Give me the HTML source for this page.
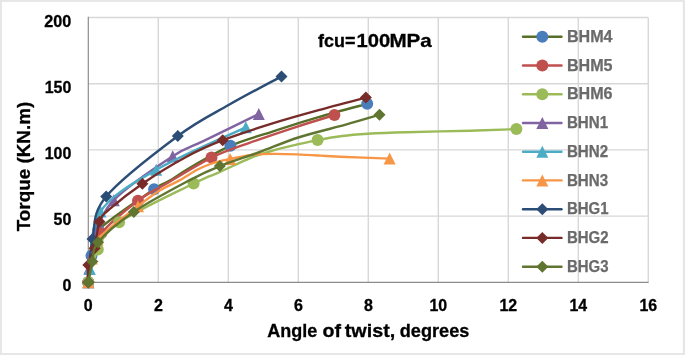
<!DOCTYPE html>
<html><head><meta charset="utf-8"><title>Torque vs angle of twist</title>
<style>html,body{margin:0;padding:0;background:#fff}svg{display:block}text{font-family:"Liberation Sans",sans-serif;font-weight:bold}</style></head><body>
<svg width="685" height="355" viewBox="0 0 685 355">
<rect x="0" y="0" width="685" height="355" fill="#e6e6e6"/>
<rect x="1.9" y="1.9" width="680.9" height="351.1" fill="#ffffff"/>
<path d="M158.3 17.5V282.3M228.3 17.5V282.3M298.3 17.5V282.3M368.3 17.5V282.3M438.3 17.5V282.3M508.3 17.5V282.3M578.3 17.5V282.3M648.3 17.5V282.3M88.3 216.10H648.3M88.3 149.90H648.3M88.3 83.70H648.3M88.3 17.50H648.3" stroke="#d8d8d8" stroke-width="1.4" fill="none"/>
<path d="M88.3 16.8V282.3H648.6" stroke="#8c8c8c" stroke-width="1.2" fill="none"/>
<path d="M88.3 282.3C88.8 277.9 89.8 264.5 91.5 255.8C93.1 247.1 88.0 241.1 98.4 230.0C108.9 218.9 142.4 197.4 154.1 189.2C165.8 181.1 162.3 185.1 168.8 181.1C175.3 177.2 183.0 171.7 193.3 165.8C203.6 159.9 217.3 151.5 230.4 145.8C243.5 140.1 257.0 136.5 271.7 131.8C286.4 127.0 302.7 121.7 318.6 117.1C334.5 112.4 359.1 106.0 367.2 103.8" stroke="#566E27" stroke-width="2.4" fill="none" stroke-linecap="round" stroke-linejoin="round"/>
<circle cx="88.3" cy="282.3" r="6" fill="#4A7EBB"/>
<circle cx="91.5" cy="255.8" r="6" fill="#4A7EBB"/>
<circle cx="98.4" cy="230.0" r="6" fill="#4A7EBB"/>
<circle cx="154.1" cy="189.2" r="6" fill="#4A7EBB"/>
<circle cx="230.4" cy="145.8" r="6" fill="#4A7EBB"/>
<circle cx="367.2" cy="103.8" r="6" fill="#4A7EBB"/>
<path d="M88.3 282.3C88.4 278.5 86.5 268.0 88.6 259.8C90.8 251.6 93.0 243.2 101.2 233.3C109.5 223.5 127.1 209.0 138.0 200.7C148.9 192.4 154.4 190.7 166.7 183.5C178.9 176.3 197.9 164.3 211.5 157.6C225.1 150.9 234.3 148.3 248.2 143.3C262.2 138.2 280.8 132.0 295.1 127.3C309.5 122.6 327.8 117.1 334.4 115.1" stroke="#C0504D" stroke-width="2.4" fill="none" stroke-linecap="round" stroke-linejoin="round"/>
<circle cx="88.3" cy="282.3" r="6" fill="#C0504D"/>
<circle cx="101.2" cy="233.3" r="6" fill="#C0504D"/>
<circle cx="138.0" cy="200.7" r="6" fill="#C0504D"/>
<circle cx="211.5" cy="157.6" r="6" fill="#C0504D"/>
<circle cx="334.4" cy="115.1" r="6" fill="#C0504D"/>
<path d="M88.3 282.3C89.9 276.8 92.6 259.5 97.8 249.5C102.9 239.5 103.1 233.3 119.1 222.3C135.1 211.3 176.8 191.9 193.6 183.5C210.4 175.1 210.4 176.3 219.9 172.0C229.4 167.7 241.9 161.4 250.7 157.8C259.5 154.3 265.5 152.7 272.8 150.6C280.0 148.4 287.0 146.9 294.4 145.1C301.9 143.4 309.6 141.6 317.6 140.1C325.5 138.6 333.6 137.1 342.1 136.0C350.5 134.9 357.2 134.4 368.0 133.7C378.7 133.1 389.4 132.7 406.4 132.2C423.5 131.7 452.2 131.2 470.5 130.7C488.8 130.2 508.7 129.4 516.4 129.1" stroke="#9BBB59" stroke-width="2.4" fill="none" stroke-linecap="round" stroke-linejoin="round"/>
<circle cx="88.3" cy="282.3" r="6" fill="#9BBB59"/>
<circle cx="97.8" cy="249.5" r="6" fill="#9BBB59"/>
<circle cx="119.1" cy="222.3" r="6" fill="#9BBB59"/>
<circle cx="193.6" cy="183.5" r="6" fill="#9BBB59"/>
<circle cx="317.6" cy="140.1" r="6" fill="#9BBB59"/>
<circle cx="516.4" cy="129.1" r="6" fill="#9BBB59"/>
<path d="M88.3 282.3C88.5 280.0 88.2 276.1 89.3 268.4C90.5 260.7 91.2 247.3 95.3 236.0C99.4 224.6 101.0 213.5 113.8 200.2C126.7 186.9 157.7 166.1 172.7 156.3C187.6 146.4 189.5 147.9 203.8 140.9C218.2 133.9 249.6 118.5 258.8 114.0" stroke="#8064A2" stroke-width="2.4" fill="none" stroke-linecap="round" stroke-linejoin="round"/>
<path d="M88.3 276.3L94.3 288.3L82.3 288.3Z" fill="#8064A2"/>
<path d="M89.3 262.4L95.3 274.4L83.3 274.4Z" fill="#8064A2"/>
<path d="M95.3 230.0L101.3 242.0L89.3 242.0Z" fill="#8064A2"/>
<path d="M113.8 194.2L119.8 206.2L107.8 206.2Z" fill="#8064A2"/>
<path d="M172.7 150.3L178.7 162.3L166.7 162.3Z" fill="#8064A2"/>
<path d="M258.8 108.0L264.8 120.0L252.8 120.0Z" fill="#8064A2"/>
<path d="M88.3 282.3C88.6 280.1 87.8 280.9 89.8 269.1C91.8 257.3 89.5 228.0 100.5 211.5C111.6 194.9 132.0 183.8 156.2 169.8C180.4 155.7 230.9 134.3 245.8 127.3" stroke="#4BACC6" stroke-width="2.4" fill="none" stroke-linecap="round" stroke-linejoin="round"/>
<path d="M88.3 276.3L94.3 288.3L82.3 288.3Z" fill="#4BACC6"/>
<path d="M89.8 263.1L95.8 275.1L83.8 275.1Z" fill="#4BACC6"/>
<path d="M100.5 205.5L106.5 217.5L94.5 217.5Z" fill="#4BACC6"/>
<path d="M156.2 163.8L162.2 175.8L150.2 175.8Z" fill="#4BACC6"/>
<path d="M245.8 121.3L251.8 133.3L239.8 133.3Z" fill="#4BACC6"/>
<path d="M88.3 282.3C88.9 278.3 90.3 265.6 91.8 258.5C93.3 251.3 89.7 248.3 97.4 239.5C105.1 230.8 127.7 214.3 138.0 206.2C148.3 198.0 152.5 194.9 159.3 190.7C166.2 186.4 172.6 184.1 178.9 180.6C185.2 177.1 192.1 172.5 197.1 169.8C202.2 167.1 205.1 166.0 209.1 164.5C213.0 163.0 217.4 161.7 220.9 160.8C224.4 159.9 225.2 160.0 230.1 159.0C235.0 158.1 243.1 155.9 250.3 155.1C257.6 154.2 265.7 154.0 273.4 153.9C281.2 153.8 289.1 154.1 296.9 154.4C304.7 154.7 313.2 155.2 320.3 155.6C327.5 156.0 328.4 156.1 339.9 156.7C351.5 157.2 381.4 158.3 389.6 158.6" stroke="#F79646" stroke-width="2.4" fill="none" stroke-linecap="round" stroke-linejoin="round"/>
<path d="M88.3 276.3L94.3 288.3L82.3 288.3Z" fill="#F79646"/>
<path d="M91.8 252.5L97.8 264.5L85.8 264.5Z" fill="#F79646"/>
<path d="M97.4 233.5L103.4 245.5L91.4 245.5Z" fill="#F79646"/>
<path d="M138.0 200.2L144.0 212.2L132.0 212.2Z" fill="#F79646"/>
<path d="M230.1 153.0L236.1 165.0L224.1 165.0Z" fill="#F79646"/>
<path d="M389.6 152.6L395.6 164.6L383.6 164.6Z" fill="#F79646"/>
<path d="M88.3 282.3C89.0 275.1 89.5 253.2 92.5 238.9C95.5 224.6 91.9 213.7 106.2 196.5C120.4 179.4 157.3 151.3 177.8 136.0C198.3 120.7 211.7 114.7 229.0 104.8C246.3 94.8 272.8 81.1 281.5 76.4" stroke="#2C4D75" stroke-width="2.4" fill="none" stroke-linecap="round" stroke-linejoin="round"/>
<path d="M88.3 276.3L94.3 282.3L88.3 288.3L82.3 282.3Z" fill="#2C4D75"/>
<path d="M92.5 232.9L98.5 238.9L92.5 244.9L86.5 238.9Z" fill="#2C4D75"/>
<path d="M106.2 190.5L112.2 196.5L106.2 202.5L100.2 196.5Z" fill="#2C4D75"/>
<path d="M177.8 130.0L183.8 136.0L177.8 142.0L171.8 136.0Z" fill="#2C4D75"/>
<path d="M281.5 70.4L287.5 76.4L281.5 82.4L275.5 76.4Z" fill="#2C4D75"/>
<path d="M88.3 282.3C88.3 279.4 87.2 270.8 88.3 265.1C89.3 259.4 92.7 255.5 94.6 248.3C96.5 241.0 97.1 228.1 99.5 221.7C101.9 215.2 101.8 216.1 108.9 209.7C116.1 203.4 129.6 192.4 142.4 183.7C155.2 174.9 172.2 164.4 185.6 157.2C199.0 149.9 208.3 145.8 222.7 140.2C237.0 134.7 255.7 128.7 271.7 123.7C287.7 118.7 302.9 114.5 318.6 110.2C334.3 105.8 358.0 99.7 365.9 97.6" stroke="#772C2A" stroke-width="2.4" fill="none" stroke-linecap="round" stroke-linejoin="round"/>
<path d="M88.3 276.3L94.3 282.3L88.3 288.3L82.3 282.3Z" fill="#772C2A"/>
<path d="M88.3 259.1L94.3 265.1L88.3 271.1L82.3 265.1Z" fill="#772C2A"/>
<path d="M94.6 242.3L100.6 248.3L94.6 254.3L88.6 248.3Z" fill="#772C2A"/>
<path d="M99.5 215.7L105.5 221.7L99.5 227.7L93.5 221.7Z" fill="#772C2A"/>
<path d="M142.4 177.7L148.4 183.7L142.4 189.7L136.4 183.7Z" fill="#772C2A"/>
<path d="M222.7 134.2L228.7 140.2L222.7 146.2L216.7 140.2Z" fill="#772C2A"/>
<path d="M365.9 91.6L371.9 97.6L365.9 103.6L359.9 97.6Z" fill="#772C2A"/>
<path d="M88.3 282.3C89.0 278.8 90.8 268.2 92.4 261.5C94.0 254.8 91.2 250.5 98.1 242.2C105.0 233.9 118.5 222.2 133.8 211.9C149.1 201.5 175.5 187.7 189.8 180.1C204.2 172.5 208.5 170.6 219.9 166.1C231.3 161.5 245.3 157.3 258.4 152.5C271.5 147.8 283.9 142.1 298.3 137.5C312.7 132.8 331.3 128.6 344.9 124.9C358.4 121.1 373.7 116.5 379.5 114.8" stroke="#5F7530" stroke-width="2.4" fill="none" stroke-linecap="round" stroke-linejoin="round"/>
<path d="M88.3 276.3L94.3 282.3L88.3 288.3L82.3 282.3Z" fill="#5F7530"/>
<path d="M92.4 255.5L98.4 261.5L92.4 267.5L86.4 261.5Z" fill="#5F7530"/>
<path d="M98.1 236.2L104.1 242.2L98.1 248.2L92.1 242.2Z" fill="#5F7530"/>
<path d="M133.8 205.9L139.8 211.9L133.8 217.9L127.8 211.9Z" fill="#5F7530"/>
<path d="M219.9 160.1L225.9 166.1L219.9 172.1L213.9 166.1Z" fill="#5F7530"/>
<path d="M379.5 108.8L385.5 114.8L379.5 120.8L373.5 114.8Z" fill="#5F7530"/>
<path d="M523 36.7H561.5" stroke="#566E27" stroke-width="2.4" stroke-linecap="round"/>
<circle cx="542.3" cy="36.7" r="6" fill="#4A7EBB"/>
<text x="566.9" y="41.9" font-size="15.6" fill="#6a6a6a" stroke="#6a6a6a" stroke-width="0.25" textLength="45.6" lengthAdjust="spacingAndGlyphs">BHM4</text>
<path d="M523 65.5H561.5" stroke="#C0504D" stroke-width="2.4" stroke-linecap="round"/>
<circle cx="542.3" cy="65.5" r="6" fill="#C0504D"/>
<text x="566.9" y="70.7" font-size="15.6" fill="#6a6a6a" stroke="#6a6a6a" stroke-width="0.25" textLength="45.6" lengthAdjust="spacingAndGlyphs">BHM5</text>
<path d="M523 94.2H561.5" stroke="#9BBB59" stroke-width="2.4" stroke-linecap="round"/>
<circle cx="542.3" cy="94.2" r="6" fill="#9BBB59"/>
<text x="566.9" y="99.4" font-size="15.6" fill="#6a6a6a" stroke="#6a6a6a" stroke-width="0.25" textLength="45.6" lengthAdjust="spacingAndGlyphs">BHM6</text>
<path d="M523 123.0H561.5" stroke="#8064A2" stroke-width="2.4" stroke-linecap="round"/>
<path d="M542.3 117.0L548.3 128.9L536.3 128.9Z" fill="#8064A2"/>
<text x="566.9" y="128.2" font-size="15.6" fill="#6a6a6a" stroke="#6a6a6a" stroke-width="0.25" textLength="41.2" lengthAdjust="spacingAndGlyphs">BHN1</text>
<path d="M523 151.7H561.5" stroke="#4BACC6" stroke-width="2.4" stroke-linecap="round"/>
<path d="M542.3 145.7L548.3 157.7L536.3 157.7Z" fill="#4BACC6"/>
<text x="566.9" y="156.9" font-size="15.6" fill="#6a6a6a" stroke="#6a6a6a" stroke-width="0.25" textLength="41.2" lengthAdjust="spacingAndGlyphs">BHN2</text>
<path d="M523 180.4H561.5" stroke="#F79646" stroke-width="2.4" stroke-linecap="round"/>
<path d="M542.3 174.4L548.3 186.4L536.3 186.4Z" fill="#F79646"/>
<text x="566.9" y="185.6" font-size="15.6" fill="#6a6a6a" stroke="#6a6a6a" stroke-width="0.25" textLength="41.2" lengthAdjust="spacingAndGlyphs">BHN3</text>
<path d="M523 209.2H561.5" stroke="#2C4D75" stroke-width="2.4" stroke-linecap="round"/>
<path d="M542.3 203.2L548.3 209.2L542.3 215.2L536.3 209.2Z" fill="#2C4D75"/>
<text x="566.9" y="214.4" font-size="15.6" fill="#6a6a6a" stroke="#6a6a6a" stroke-width="0.25" textLength="41.6" lengthAdjust="spacingAndGlyphs">BHG1</text>
<path d="M523 237.9H561.5" stroke="#772C2A" stroke-width="2.4" stroke-linecap="round"/>
<path d="M542.3 231.9L548.3 237.9L542.3 243.9L536.3 237.9Z" fill="#772C2A"/>
<text x="566.9" y="243.1" font-size="15.6" fill="#6a6a6a" stroke="#6a6a6a" stroke-width="0.25" textLength="41.6" lengthAdjust="spacingAndGlyphs">BHG2</text>
<path d="M523 266.7H561.5" stroke="#5F7530" stroke-width="2.4" stroke-linecap="round"/>
<path d="M542.3 260.7L548.3 266.7L542.3 272.7L536.3 266.7Z" fill="#5F7530"/>
<text x="566.9" y="271.9" font-size="15.6" fill="#6a6a6a" stroke="#6a6a6a" stroke-width="0.25" textLength="41.6" lengthAdjust="spacingAndGlyphs">BHG3</text>
<text x="62.4" y="291.3" font-size="16" fill="#000" stroke="#000" stroke-width="0.3" textLength="8.9" lengthAdjust="spacingAndGlyphs">0</text>
<text x="53.6" y="225.1" font-size="16" fill="#000" stroke="#000" stroke-width="0.3" textLength="17.7" lengthAdjust="spacingAndGlyphs">50</text>
<text x="44.7" y="158.9" font-size="16" fill="#000" stroke="#000" stroke-width="0.3" textLength="26.6" lengthAdjust="spacingAndGlyphs">100</text>
<text x="44.7" y="92.7" font-size="16" fill="#000" stroke="#000" stroke-width="0.3" textLength="26.6" lengthAdjust="spacingAndGlyphs">150</text>
<text x="44.3" y="26.5" font-size="16" fill="#000" stroke="#000" stroke-width="0.3" textLength="27" lengthAdjust="spacingAndGlyphs">200</text>
<text x="83.8" y="311.4" font-size="16" fill="#000" stroke="#000" stroke-width="0.3" textLength="8.9" lengthAdjust="spacingAndGlyphs">0</text>
<text x="153.9" y="311.4" font-size="16" fill="#000" stroke="#000" stroke-width="0.3" textLength="8.9" lengthAdjust="spacingAndGlyphs">2</text>
<text x="223.9" y="311.4" font-size="16" fill="#000" stroke="#000" stroke-width="0.3" textLength="8.9" lengthAdjust="spacingAndGlyphs">4</text>
<text x="293.9" y="311.4" font-size="16" fill="#000" stroke="#000" stroke-width="0.3" textLength="8.9" lengthAdjust="spacingAndGlyphs">6</text>
<text x="363.9" y="311.4" font-size="16" fill="#000" stroke="#000" stroke-width="0.3" textLength="8.9" lengthAdjust="spacingAndGlyphs">8</text>
<text x="429.4" y="311.4" font-size="16" fill="#000" stroke="#000" stroke-width="0.3" textLength="17.7" lengthAdjust="spacingAndGlyphs">10</text>
<text x="499.4" y="311.4" font-size="16" fill="#000" stroke="#000" stroke-width="0.3" textLength="17.7" lengthAdjust="spacingAndGlyphs">12</text>
<text x="569.4" y="311.4" font-size="16" fill="#000" stroke="#000" stroke-width="0.3" textLength="17.7" lengthAdjust="spacingAndGlyphs">14</text>
<text x="639.4" y="311.4" font-size="16" fill="#000" stroke="#000" stroke-width="0.3" textLength="17.7" lengthAdjust="spacingAndGlyphs">16</text>
<text y="337.2" font-size="18.3" fill="#000" stroke="#000" stroke-width="0.3"><tspan x="267.3" textLength="50" lengthAdjust="spacingAndGlyphs">Angle</tspan> <tspan x="322.5" textLength="18.5" lengthAdjust="spacingAndGlyphs">of</tspan> <tspan x="344.8" textLength="50.5" lengthAdjust="spacingAndGlyphs">twist,</tspan> <tspan x="399.8" textLength="69.5" lengthAdjust="spacingAndGlyphs">degrees</tspan></text>
<text transform="translate(29.5 231.3) rotate(-90)" font-size="18.8" fill="#000" stroke="#000" stroke-width="0.3" textLength="129.5" lengthAdjust="spacingAndGlyphs">Torque (KN.m)</text>
<text y="47.3" font-size="18.2" fill="#000" stroke="#000" stroke-width="0.3"><tspan x="318" textLength="37.4" lengthAdjust="spacingAndGlyphs">fcu=</tspan><tspan x="356.5" textLength="33.6" lengthAdjust="spacingAndGlyphs">100</tspan><tspan x="389.4" textLength="42.4" lengthAdjust="spacingAndGlyphs">MPa</tspan></text>
</svg></body></html>
